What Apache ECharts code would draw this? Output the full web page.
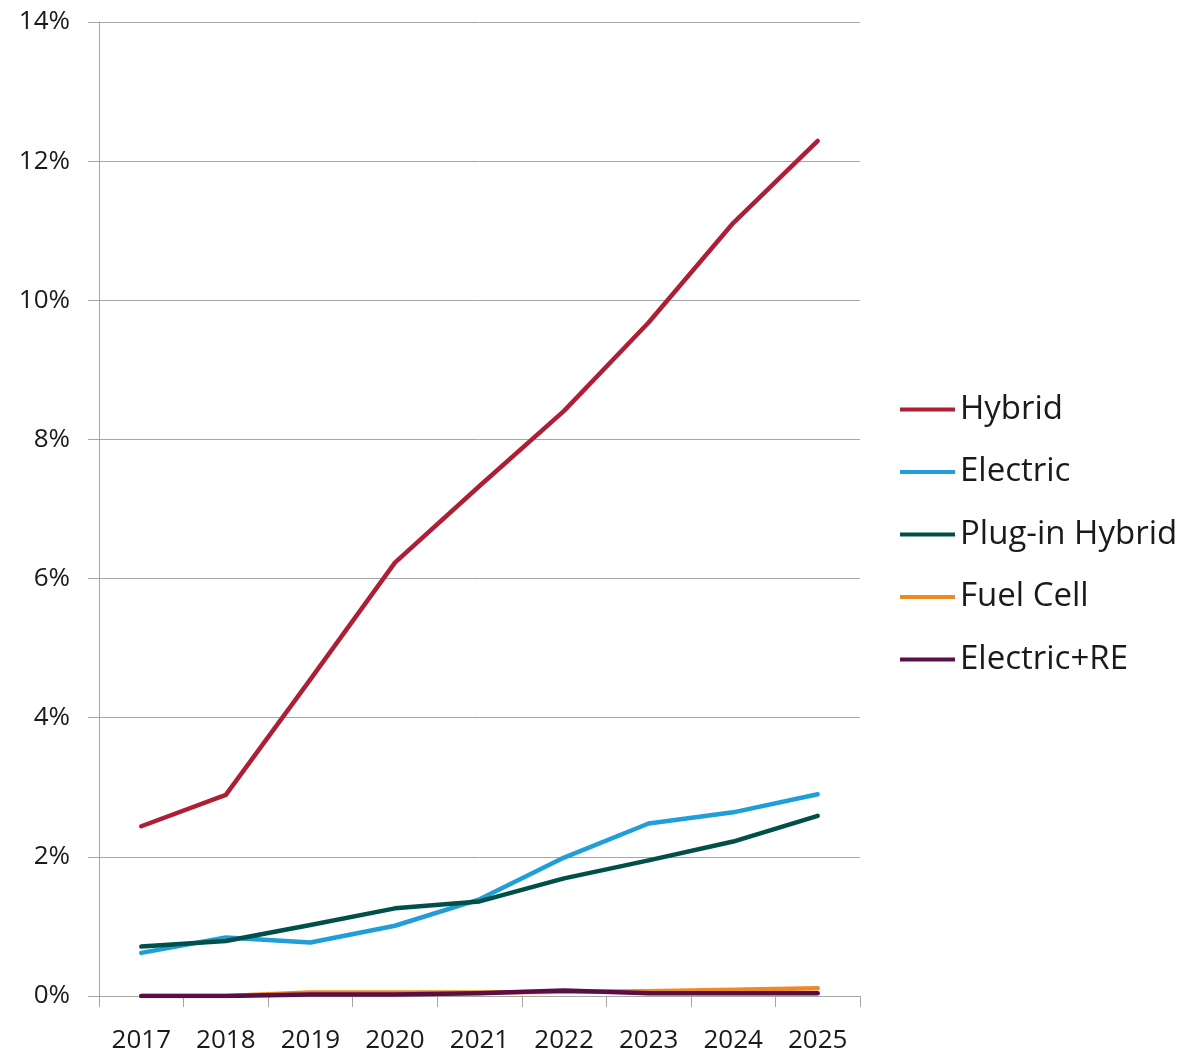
<!DOCTYPE html>
<html>
<head>
<meta charset="utf-8">
<script src="https://cdn.jsdelivr.net/npm/echarts@6/dist/echarts.min.js"></script>
<style>
  html, body { margin: 0; padding: 0; background: #ffffff; }
  #chart { width: 1186px; height: 1054px; }
</style>
</head>
<body>
<div id="chart"></div>
<script>
// Model years on the x axis
const years = ['2017', '2018', '2019', '2020', '2021', '2022', '2023', '2024', '2025'];

// Market share by powertrain, in percent
const hybrid       = [2.44, 2.89, 4.55, 6.23, 7.33, 8.41, 9.68, 11.11, 12.29];
const electric     = [0.62, 0.84, 0.77, 1.01, 1.39, 1.99, 2.48, 2.64, 2.90];
const plugInHybrid = [0.71, 0.79, 1.02, 1.26, 1.36, 1.69, 1.95, 2.22, 2.59];
const fuelCell     = [0.00, 0.00, 0.05, 0.05, 0.05, 0.06, 0.07, 0.09, 0.11];
const electricRE   = [0.00, 0.00, 0.02, 0.02, 0.04, 0.08, 0.04, 0.04, 0.04];

const seriesNames = ['Hybrid', 'Electric', 'Plug-in Hybrid', 'Fuel Cell', 'Electric+RE'];
const seriesData = [hybrid, electric, plugInHybrid, fuelCell, electricRE];
const seriesColors = ['#AD1F35', '#1F9ED8', '#00504A', '#EE8A23', '#5A0E48'];

const FONT = '"Open Sans", "Noto Sans", sans-serif';
const GRID_GRAY = '#A6A6A6';

const chart = echarts.init(document.getElementById('chart'), null, { renderer: 'canvas' });

chart.setOption({
  backgroundColor: '#ffffff',
  animation: false,
  grid: { left: 99, right: 326, top: 22, bottom: 57, containLabel: false },
  legend: {
    orient: 'vertical',
    left: 895,
    top: 388,
    itemWidth: 55,
    itemHeight: 4,
    itemGap: 29.5,
    icon: 'rect',
    textStyle: { fontFamily: FONT, fontSize: 33, color: '#1a1a1a' },
    data: seriesNames
  },
  xAxis: {
    type: 'category',
    data: years,
    boundaryGap: true,
    axisLine: { lineStyle: { color: GRID_GRAY, width: 1 } },
    axisTick: { show: true, length: 11, lineStyle: { color: GRID_GRAY } },
    axisLabel: { fontFamily: FONT, fontSize: 26, color: '#1a1a1a', margin: 32 }
  },
  yAxis: {
    type: 'value',
    min: 0,
    max: 14,
    interval: 2,
    axisLine: { show: true, lineStyle: { color: GRID_GRAY, width: 1 } },
    axisTick: { show: true, length: 11, lineStyle: { color: GRID_GRAY } },
    splitLine: { show: true, lineStyle: { color: GRID_GRAY, width: 1 } },
    axisLabel: {
      fontFamily: FONT, fontSize: 26, color: '#1a1a1a', margin: 29,
      formatter: v => v + '%'
    }
  },
  // later series are drawn over earlier ones
  series: seriesNames.map((name, i) => ({
    name,
    type: 'line',
    data: seriesData[i],
    symbol: 'none',
    smooth: false,
    z: 2 + i,
    itemStyle: { color: seriesColors[i] },
    lineStyle: { color: seriesColors[i], width: 4.5, cap: 'round', join: 'round' }
  }))
});
</script>
</body>
</html>
